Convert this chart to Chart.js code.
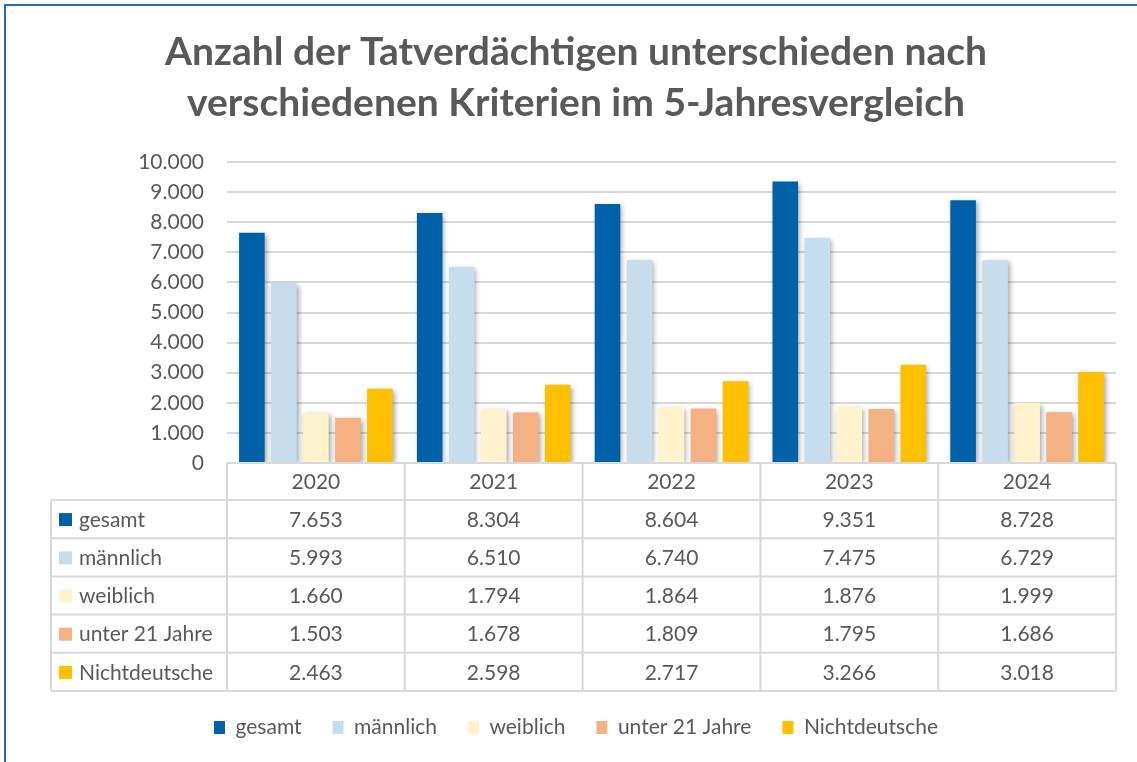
<!DOCTYPE html>
<html>
<head>
<meta charset="utf-8">
<script src="https://cdn.jsdelivr.net/npm/chart.js@4"></script>
<style>
  body { margin: 0; background: #fff; }
  #frame { position: absolute; left: 4px; top: 4px; width: 1200px; height: 800px;
           border-left: 2px solid #1f6fbf; border-top: 2px solid #1f6fbf; }
  canvas { position: absolute; left: 0; top: 0; }
</style>
</head>
<body>
<div id="frame"></div>
<canvas id="chart" width="1137" height="762"></canvas>
<script>
// chart data
const years = ['2020', '2021', '2022', '2023', '2024'];
const gesamt = [7653, 8304, 8604, 9351, 8728];
const maennlich = [5993, 6510, 6740, 7475, 6729];
const weiblich = [1660, 1794, 1864, 1876, 1999];
const unter21 = [1503, 1678, 1809, 1795, 1686];
const nichtdeutsche = [2463, 2598, 2717, 3266, 3018];
const seriesNames = ['gesamt', 'männlich', 'weiblich', 'unter 21 Jahre', 'Nichtdeutsche'];
const colors = ['#0060a8', '#c6ddee', '#fff2cc', '#f4b183', '#ffc000'];

const textColor = '#595959';
const fontFamily = 'Lato, "Open Sans", sans-serif';

function fmt(n) {
  return String(n).replace(/\B(?=(\d{3})+(?!\d))/g, '.');
}

// soft shadow behind the bars
const barShadow = {
  id: 'barShadow',
  beforeDatasetsDraw(chart) {
    const ctx = chart.ctx;
    ctx.save();
    ctx.shadowColor = 'rgba(0,0,0,0.35)';
    ctx.shadowBlur = 5;
    ctx.shadowOffsetX = 2;
    ctx.shadowOffsetY = 2;
  },
  afterDatasetsDraw(chart) {
    chart.ctx.restore();
  }
};

// data table under the plot
const dataTable = {
  id: 'dataTable',
  afterDraw(chart) {
    const ctx = chart.ctx;
    const xs = chart.scales.x;
    const area = chart.chartArea;
    const n = years.length;
    const colW = (area.right - area.left) / n;
    const top = area.bottom;
    const headH = 37;
    const rowH = 38.2;
    const bottom = top + headH + rowH * seriesNames.length;
    const left = 51;

    ctx.save();
    ctx.strokeStyle = '#d9d9d9';
    ctx.lineWidth = 2;
    ctx.beginPath();
    // horizontal lines
    ctx.moveTo(area.left, top); ctx.lineTo(area.right, top);
    for (let r = 0; r <= seriesNames.length; r++) {
      const y = top + headH + rowH * r;
      ctx.moveTo(left, y); ctx.lineTo(area.right, y);
    }
    // vertical lines
    ctx.moveTo(left, top + headH); ctx.lineTo(left, bottom);
    for (let c = 0; c <= n; c++) {
      const x = area.left + colW * c;
      ctx.moveTo(x, top); ctx.lineTo(x, bottom);
    }
    ctx.stroke();

    ctx.fillStyle = textColor;
    ctx.font = '21px ' + fontFamily;
    ctx.textAlign = 'center';
    ctx.textBaseline = 'middle';
    years.forEach((y, i) => {
      ctx.fillText(y, xs.getPixelForValue(i), top + headH / 2 + 1);
    });
    chart.data.datasets.forEach((ds, r) => {
      const cy = top + headH + rowH * r + rowH / 2 + 1;
      ds.data.forEach((v, i) => {
        ctx.textAlign = 'center';
        ctx.fillText(fmt(v), xs.getPixelForValue(i), cy);
      });
      ctx.fillStyle = ds.backgroundColor;
      ctx.fillRect(59, cy - 7, 13, 13);
      ctx.fillStyle = textColor;
      ctx.textAlign = 'left';
      ctx.fillText(ds.label, 79, cy);
    });
    ctx.restore();
  }
};

const allSeries = [gesamt, maennlich, weiblich, unter21, nichtdeutsche];

new Chart(document.getElementById('chart'), {
  type: 'bar',
  data: {
    labels: years,
    datasets: allSeries.map((d, i) => ({
      label: seriesNames[i],
      data: d,
      backgroundColor: colors[i],
      borderWidth: 0,
      categoryPercentage: 0.9,
      barPercentage: 0.8
    }))
  },
  options: {
    responsive: false,
    animation: false,
    layout: { padding: { left: 36, right: 21, top: 27, bottom: 14 } },
    plugins: {
      title: {
        display: true,
        text: ['Anzahl der Tatverdächtigen unterschieden nach', 'verschiedenen Kriterien im 5-Jahresvergleich'],
        color: textColor,
        font: { family: fontFamily, size: 39, weight: 'bold', lineHeight: 1.3 },
        padding: { top: 0, bottom: 33.6 }
      },
      legend: {
        position: 'bottom',
        labels: {
          color: textColor,
          font: { family: fontFamily, size: 21 },
          boxWidth: 11,
          boxHeight: 13,
          padding: 31
        }
      },
      tooltip: { enabled: false }
    },
    scales: {
      x: {
        grid: { display: false },
        border: { display: false },
        ticks: { display: false },
        afterFit(scale) { scale.height = 223; }
      },
      y: {
        min: 0,
        max: 10000,
        ticks: {
          stepSize: 1000,
          color: textColor,
          font: { family: fontFamily, size: 21 },
          padding: 23,
          callback: v => fmt(v)
        },
        grid: { color: '#d9d9d9', lineWidth: 2, drawTicks: false },
        border: { display: false },
        afterFit(scale) { scale.width = 191; }
      }
    }
  },
  plugins: [barShadow, dataTable]
});
</script>
</body>
</html>
